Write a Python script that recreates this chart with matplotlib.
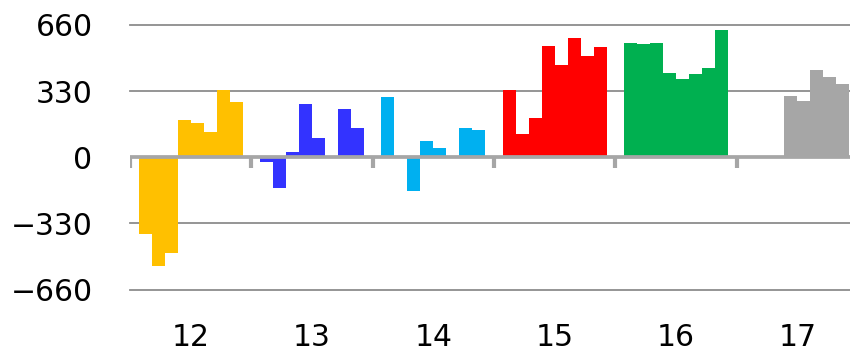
import matplotlib.pyplot as plt
import numpy as np

# fiscal years on the x axis, 8 bars per year
years = ["12", "13", "14", "15", "16", "17"]
values_12 = [-383, -541, -477, 186, 171, 126, 335, 275]
values_13 = [-26, -155, 27, 265, 97, 0, 241, 146]
values_14 = [300, 0, -170, 82, 47, 0, 146, 136]
values_15 = [335, 117, 196, 553, 459, 593, 503, 548]
values_16 = [568, 563, 568, 419, 389, 414, 444, 637]
values_17 = [0, 0, 0, 305, 280, 434, 399, 365]
y_ticks = [-660, -330, 0, 330, 660]

series = [values_12, values_13, values_14, values_15, values_16, values_17]
colors = ["#FFC000", "#3333FF", "#00B0F0", "#FF0000", "#00B050", "#A6A6A6"]

plt.rcParams["font.family"] = ["DejaVu Sans"]

fig = plt.figure(figsize=(8.5, 3.51), dpi=100)
# axes run past the right edge, the picture is cropped there
ax = fig.add_axes([130 / 850, (351 - 289.5) / 351, 728 / 850, 264.5 / 351])

bar_w = 13 / 121.33
for g, vals in enumerate(series):
    x = g + (np.arange(len(vals)) - 3.5) * bar_w
    ax.bar(x, vals, width=bar_w, color=colors[g], linewidth=0, zorder=2)

# grid lines
for v in y_ticks:
    if v != 0:
        ax.axhline(v, color="#8C8C8C", lw=1.3, zorder=1, clip_on=False)

# zero axis with category separators
ax.axhline(0, color="#A6A6A6", lw=2.7, zorder=3)
for b in np.arange(len(years) + 1) - 0.5:
    ax.plot([b, b], [0, -55], color="#A6A6A6", lw=3, solid_capstyle="butt", zorder=3)

ax.set_xlim(-0.5, len(years) - 0.5)
ax.set_ylim(-660, 660)

ax.set_xticks(range(len(years)))
ax.set_xticklabels(years)
ax.set_yticks(y_ticks)
ax.set_yticklabels([str(v).replace("-", "\u2212") for v in y_ticks])
ax.minorticks_off()
ax.tick_params(axis="both", which="both", length=0, width=0, labelsize=21.5, colors="black")
ax.tick_params(axis="y", pad=27)
ax.tick_params(axis="x", pad=24)

for s in ax.spines.values():
    s.set_visible(False)

fig.savefig("out.png", dpi=100)
